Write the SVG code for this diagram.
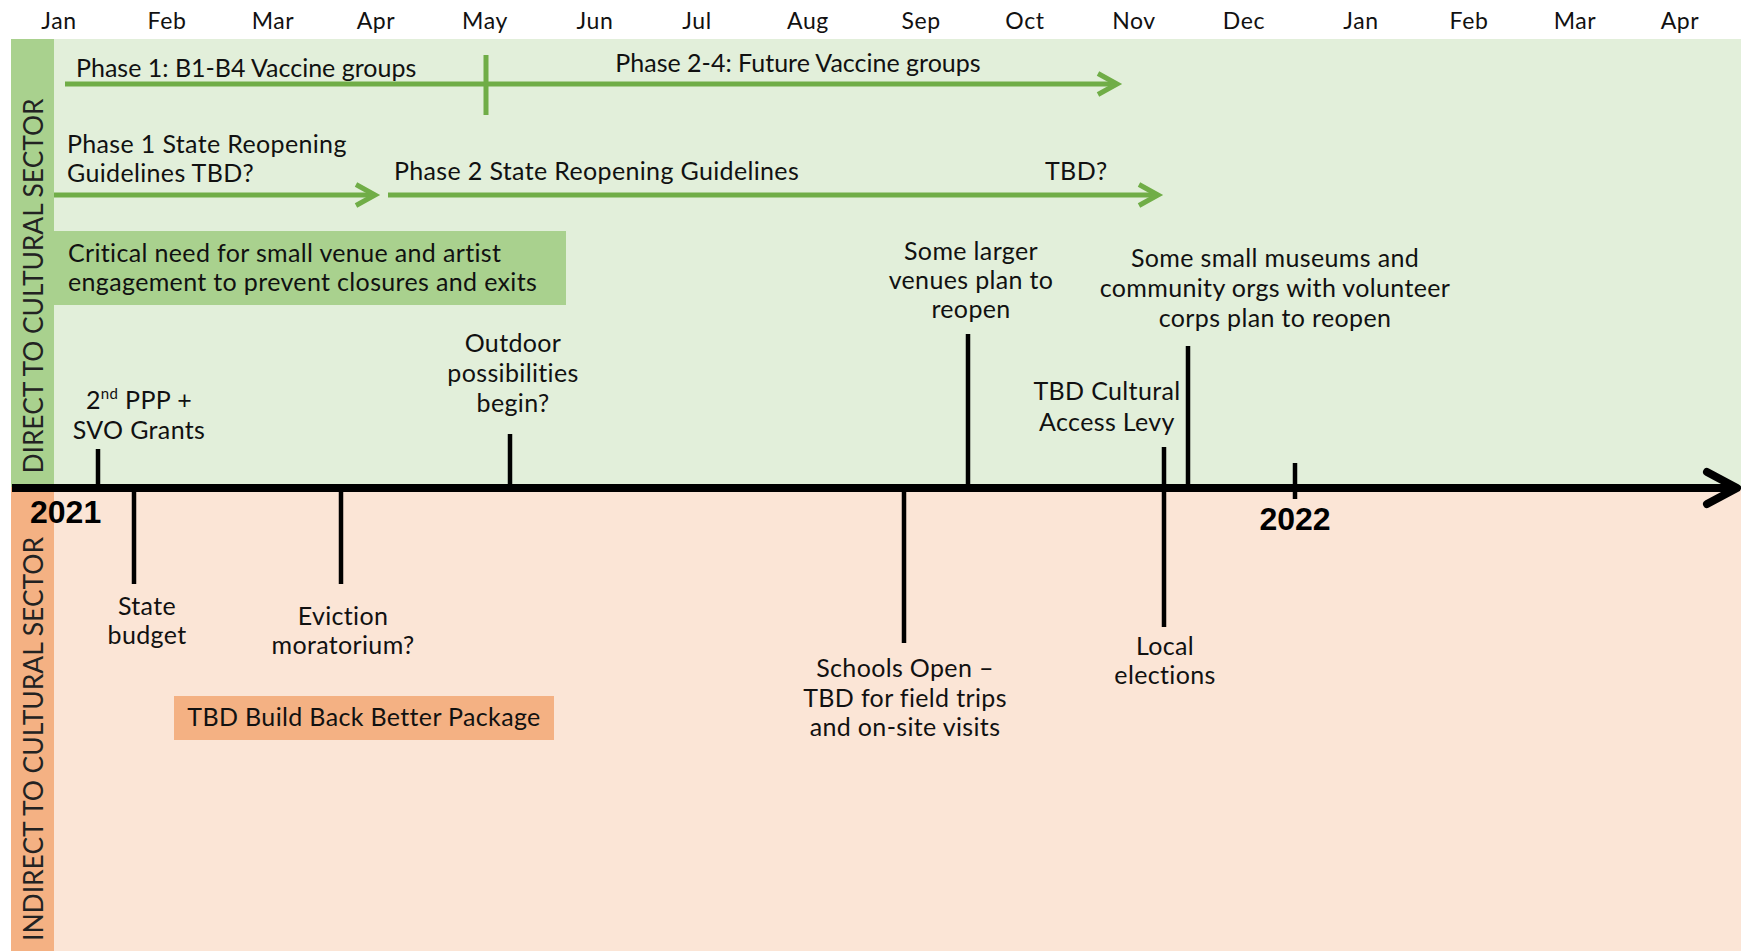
<svg xmlns="http://www.w3.org/2000/svg" width="1741" height="951" viewBox="0 0 1741 951">
<style>
text{font-family:Lato,"Open Sans","Liberation Sans",sans-serif;fill:#111}
.m{font-size:23px;text-anchor:middle;letter-spacing:0.6px}
.t{font-size:25px;letter-spacing:0.35px}
.c{font-size:25px;text-anchor:middle;letter-spacing:0.35px}
.v{letter-spacing:0}
.yr{font-family:"Liberation Sans",Arial,sans-serif;font-weight:bold;font-size:32px;fill:#000;letter-spacing:0}
.side{font-size:26px;text-anchor:middle;fill:#222}
.tick{stroke:#000;stroke-width:4.5;fill:none}
.garr{stroke:#70ad47;stroke-width:5;fill:none}
</style>
<defs>
<marker id="gh" markerUnits="userSpaceOnUse" markerWidth="30" markerHeight="30" viewBox="-22 -14 30 28" refX="0" refY="0" orient="auto">
<path d="M-19,-10.5 L0,0 L-19,10.5" fill="none" stroke="#70ad47" stroke-width="5"/>
</marker>
<marker id="bh" markerUnits="userSpaceOnUse" markerWidth="44" markerHeight="44" viewBox="-36 -22 44 44" refX="0" refY="0" orient="auto">
<path d="M-30,-16 L0,0 L-30,16" fill="none" stroke="#000" stroke-width="8" stroke-linecap="round" stroke-linejoin="round"/>
</marker>
</defs>
<rect x="0" y="0" width="1741" height="951" fill="#fff"/>
<g id="bands">
<rect x="54" y="39" width="1687" height="448" fill="#e2efda"/>
<rect x="11" y="39" width="43" height="448" fill="#a9d18e"/>
<rect x="54" y="487" width="1687" height="464" fill="#fbe5d6"/>
<rect x="11" y="487" width="43" height="464" fill="#f4b183"/>
</g>
<g id="months">
<text class="m" x="59" y="29">Jan</text>
<text class="m" x="167" y="29">Feb</text>
<text class="m" x="273" y="29">Mar</text>
<text class="m" x="376" y="29">Apr</text>
<text class="m" x="485" y="29">May</text>
<text class="m" x="595" y="29">Jun</text>
<text class="m" x="697" y="29">Jul</text>
<text class="m" x="808" y="29">Aug</text>
<text class="m" x="921" y="29">Sep</text>
<text class="m" x="1025" y="29">Oct</text>
<text class="m" x="1134" y="29">Nov</text>
<text class="m" x="1244" y="29">Dec</text>
<text class="m" x="1361" y="29">Jan</text>
<text class="m" x="1469" y="29">Feb</text>
<text class="m" x="1575" y="29">Mar</text>
<text class="m" x="1680" y="29">Apr</text>
</g>
<g id="side-direct"><text class="side" transform="translate(43,286) rotate(-90)" textLength="375" lengthAdjust="spacingAndGlyphs">DIRECT TO CULTURAL SECTOR</text></g>
<g id="side-indirect"><text class="side" transform="translate(43,739) rotate(-90)" textLength="404" lengthAdjust="spacingAndGlyphs">INDIRECT TO CULTURAL SECTOR</text></g>
<g id="connectors">
<line x1="12" y1="488" x2="1737" y2="488" stroke="#000" stroke-width="8" marker-end="url(#bh)"/>
<line class="garr" x1="65" y1="84" x2="1117" y2="84" marker-end="url(#gh)"/>
<line class="garr" x1="486" y1="55" x2="486" y2="115"/>
<line class="garr" x1="54" y1="195" x2="375" y2="195" marker-end="url(#gh)"/>
<line class="garr" x1="388" y1="195" x2="1158" y2="195" marker-end="url(#gh)"/>
<line class="tick" x1="98" y1="449" x2="98" y2="488"/>
<line class="tick" x1="510" y1="434" x2="510" y2="488"/>
<line class="tick" x1="968" y1="334" x2="968" y2="488"/>
<line class="tick" x1="1164" y1="447" x2="1164" y2="627"/>
<line class="tick" x1="1188" y1="346" x2="1188" y2="488"/>
<line class="tick" x1="1295" y1="463" x2="1295" y2="499"/>
<line class="tick" x1="134" y1="488" x2="134" y2="584"/>
<line class="tick" x1="341" y1="488" x2="341" y2="584"/>
<line class="tick" x1="904" y1="488" x2="904" y2="643"/>
</g>
<g id="vaccine-phase1"><text class="t v" x="76" y="77">Phase 1: B1-B4 Vaccine groups</text></g>
<g id="vaccine-phase2"><text class="c v" x="798" y="72">Phase 2-4: Future Vaccine groups</text></g>
<g id="reopen-phase1"><text class="t" x="67" y="153">Phase 1 State Reopening</text><text class="t" x="67" y="182">Guidelines TBD?</text></g>
<g id="reopen-phase2"><text class="t" x="394" y="180">Phase 2 State Reopening Guidelines</text></g>
<g id="reopen-tbd"><text class="t" x="1045" y="180">TBD?</text></g>
<g id="critical-need">
<rect x="54" y="231" width="512" height="74" fill="#a9d18e"/>
<text class="t" x="68" y="262">Critical need for small venue and artist</text>
<text class="t" x="68" y="291">engagement to prevent closures and exits</text>
</g>
<g id="ppp"><text class="c" x="139" y="409">2<tspan font-size="15" dy="-10">nd</tspan><tspan dy="10"> PPP +</tspan></text><text class="c" x="139" y="439">SVO Grants</text></g>
<g id="outdoor"><text class="c" x="513" y="352">Outdoor</text><text class="c" x="513" y="382">possibilities</text><text class="c" x="513" y="412">begin?</text></g>
<g id="larger-venues"><text class="c" x="971" y="260">Some larger</text><text class="c" x="971" y="289">venues plan to</text><text class="c" x="971" y="318">reopen</text></g>
<g id="cultural-levy"><text class="c" x="1107" y="400">TBD Cultural</text><text class="c" x="1107" y="431">Access Levy</text></g>
<g id="small-museums"><text class="c" x="1275" y="267">Some small museums and</text><text class="c" x="1275" y="297">community orgs with volunteer</text><text class="c" x="1275" y="327">corps plan to reopen</text></g>
<g id="y2021"><text class="yr" x="30" y="523">2021</text></g>
<g id="y2022"><text class="yr" x="1295" y="530" text-anchor="middle">2022</text></g>
<g id="state-budget"><text class="c" x="147" y="615">State</text><text class="c" x="147" y="644">budget</text></g>
<g id="eviction"><text class="c" x="343" y="625">Eviction</text><text class="c" x="343" y="654">moratorium?</text></g>
<g id="schools"><text class="c" x="905" y="677">Schools Open –</text><text class="c" x="905" y="707">TBD for field trips</text><text class="c" x="905" y="736">and on-site visits</text></g>
<g id="local-elections"><text class="c" x="1165" y="655">Local</text><text class="c" x="1165" y="684">elections</text></g>
<g id="build-back-better">
<rect x="174" y="696" width="380" height="44" fill="#f4b183"/>
<text class="c" x="364" y="726">TBD Build Back Better Package</text>
</g>
</svg>
